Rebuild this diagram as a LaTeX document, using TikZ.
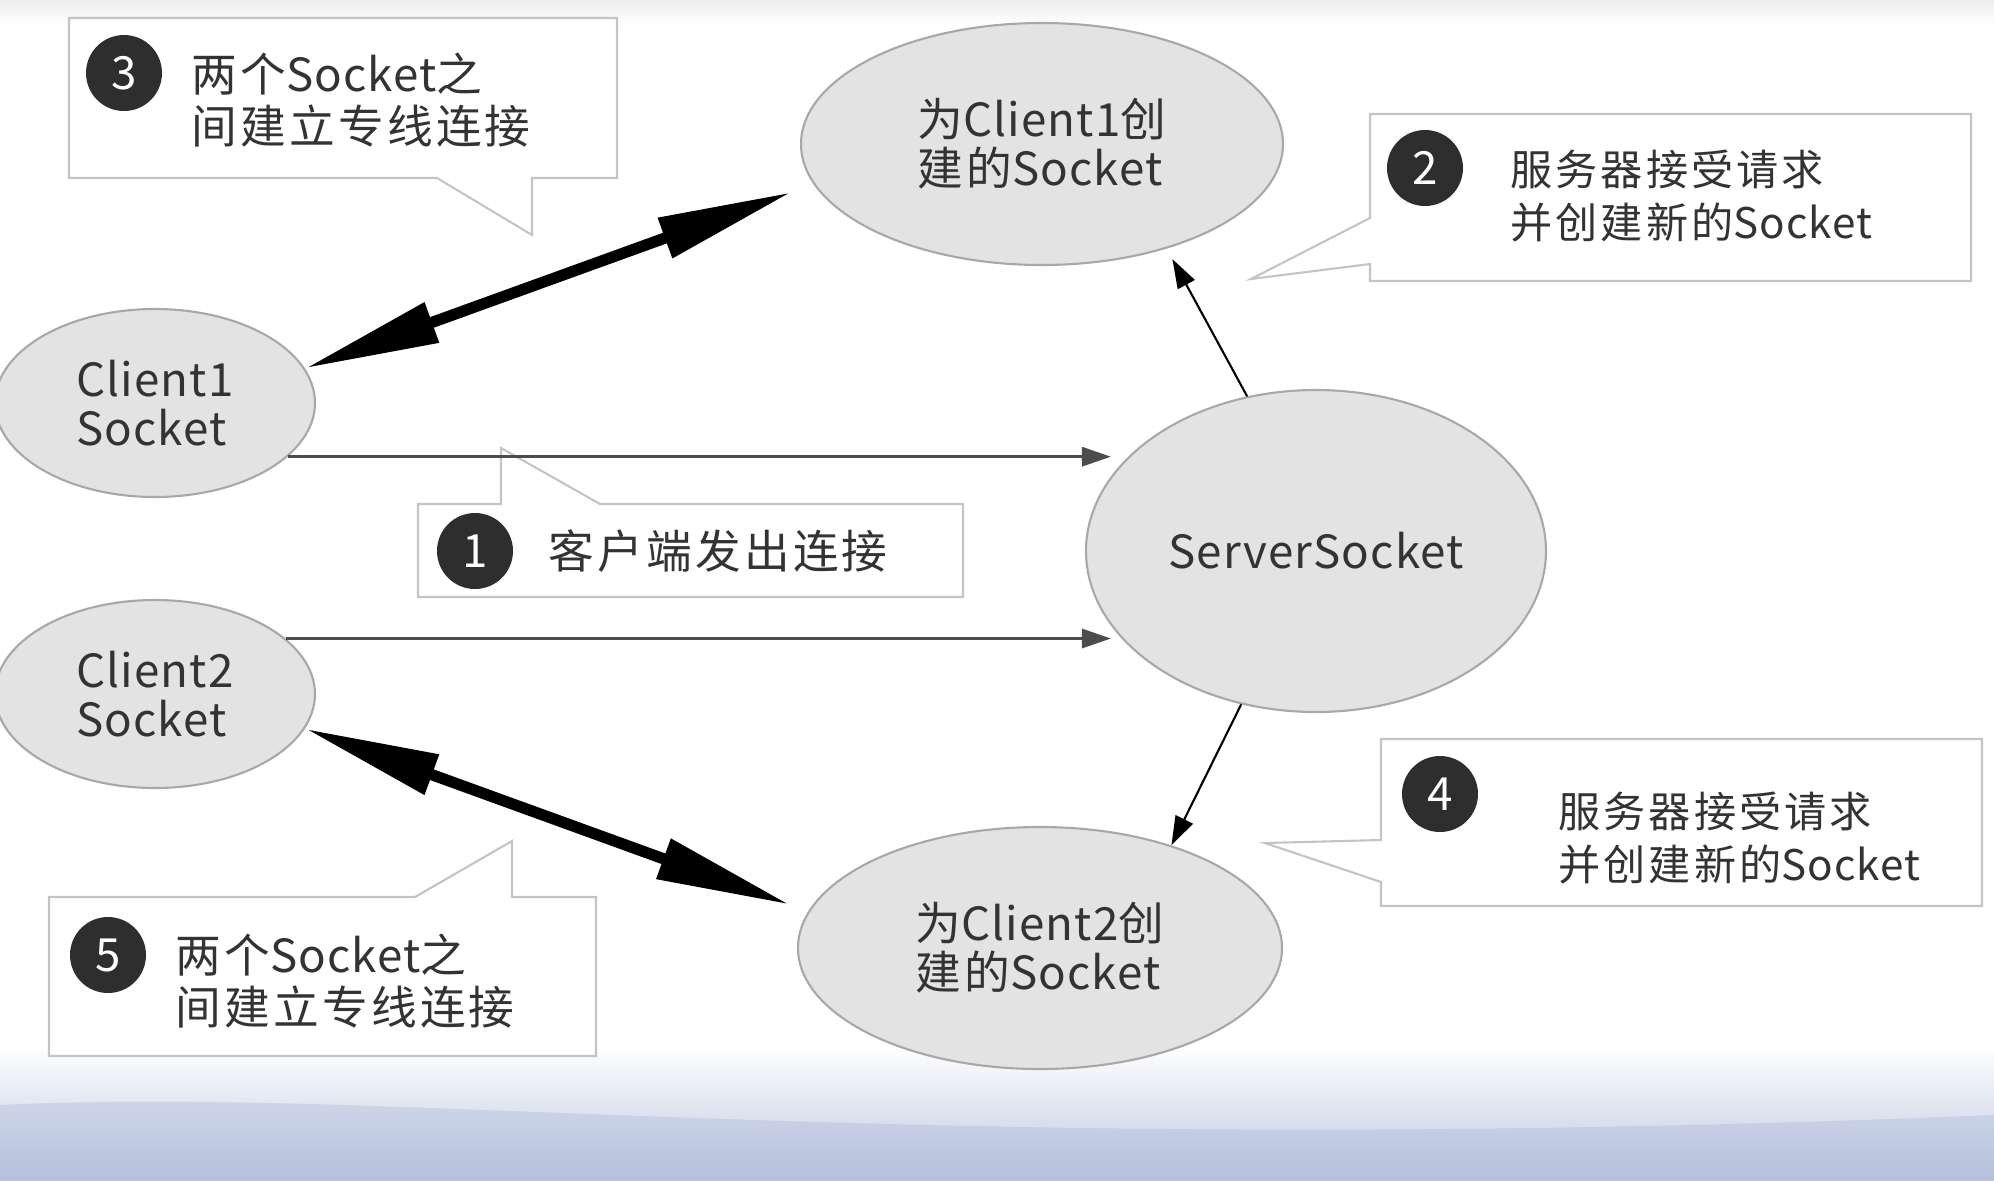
\documentclass[tikz,border=0pt]{standalone}
\usepackage{fontspec}
\setmainfont[LetterSpace=7]{Noto Sans CJK SC}
\newfontfamily\latfont[LetterSpace=2.5]{Noto Sans CJK SC}
\newcommand{\lat}[1]{{\latfont #1}}
\usepackage{tikz}
\usetikzlibrary{
  calc, shapes, arrows.meta, positioning
}

\definecolor{sockfill}{HTML}{E3E3E3}
\definecolor{sockline}{HTML}{A8A8A8}
\definecolor{txt}{HTML}{333333}
\definecolor{boxline}{HTML}{C4C4C4}
\definecolor{wave}{HTML}{A7B4D6}

\begin{document}
\begin{tikzpicture}[font=\fontsize{13}{14}\selectfont, text=txt]
  \tikzstyle{sock}=[ellipse, draw=sockline, line width=0.6pt, fill=sockfill, inner sep=0pt, align=left]
  \tikzstyle{num}=[circle, fill=black!82, text=white, minimum size=0.76cm, inner sep=0pt]
  \tikzstyle{note}=[draw=boxline, line width=0.6pt, fill=white]
  \tikzstyle{notetext}=[anchor=west, inner sep=0pt, align=left]
  \tikzstyle{push}=[draw=black!70, line width=0.9pt, -{Triangle[length=2.9mm,width=1.9mm]}]
  \tikzstyle{spawn}=[draw=black, line width=0.6pt, -{Triangle[length=2.9mm,width=1.9mm]}]
  \tikzstyle{link}=[line width=3.2pt, {Triangle[length=13.5mm,width=4mm]}-{Triangle[length=13.5mm,width=4mm]}]

  \pgfmathsetmacro{\W}{19.94}
  \pgfmathsetmacro{\H}{11.80}

  \useasboundingbox (0,0) rectangle (\W,-\H);
  % background
  \shade[top color=gray!14, bottom color=white] (0,0) rectangle (\W,-0.25);
  \shade[top color=white, bottom color=wave!75] (0,-10.45) rectangle (\W,-\H);
  \fill[wave, opacity=0.35] (0,-11.05) .. controls (4,-10.85) and (9,-11.6) .. (\W,-11.15) -- (\W,-\H) -- (0,-\H) -- cycle;

  % callouts
  \draw[note] (0.69,-0.18) -- (6.17,-0.18) -- (6.17,-1.78) -- (5.32,-1.78) -- (5.32,-2.35) -- (4.37,-1.78) -- (0.69,-1.78) -- cycle;
  \draw[note] (4.18,-5.04) -- (5.01,-5.04) -- (5.01,-4.48) -- (6.00,-5.04) -- (9.63,-5.04) -- (9.63,-5.97) -- (4.18,-5.97) -- cycle;
  \draw[note] (13.70,-1.14) -- (19.71,-1.14) -- (19.71,-2.81) -- (13.70,-2.81) -- (13.70,-2.64) -- (12.51,-2.79) -- (13.70,-2.18) -- cycle;
  \draw[note] (13.81,-7.39) -- (19.82,-7.39) -- (19.82,-9.06) -- (13.81,-9.06) -- (13.81,-8.82) -- (12.65,-8.43) -- (13.81,-8.40) -- cycle;
  \draw[note] (0.49,-8.97) -- (4.15,-8.97) -- (5.12,-8.41) -- (5.12,-8.97) -- (5.96,-8.97) -- (5.96,-10.56) -- (0.49,-10.56) -- cycle;

  \node (n3) [num] at (1.24,-0.73) {3};
  \node (n1) [num] at (4.75,-5.51) {1};
  \node (n2) [num] at (14.25,-1.68) {2};
  \node (n4) [num] at (14.40,-7.94) {4};
  \node (n5) [num] at (1.08,-9.55) {5};

  \node (t3) [notetext] at (1.91,-1.00) {两个\lat{Socket}之\\[1pt]间建立专线连接};
  \node (t1) [notetext] at (5.48,-5.51) {客户端发出连接};
  \node (t2) [notetext, font=\fontsize{12}{14}\selectfont] at (15.10,-1.96) {服务器接受请求\\[1pt]并创建新的\lat{Socket}};
  \node (t4) [notetext, font=\fontsize{12}{14}\selectfont] at (15.58,-8.38) {服务器接受请求\\[1pt]并创建新的\lat{Socket}};
  \node (t5) [notetext] at (1.75,-9.81) {两个\lat{Socket}之\\[1pt]间建立专线连接};

  % sockets
  \node (c1) [sock, minimum width=3.2cm, minimum height=1.88cm] at (1.55,-4.03) {\lat{Client1}\\\lat{Socket}};
  \node (c2) [sock, minimum width=3.2cm, minimum height=1.88cm] at (1.55,-6.94) {\lat{Client2}\\\lat{Socket}};
  \node (srv) [sock, minimum width=4.6cm, minimum height=3.22cm] at (13.16,-5.51) {\lat{ServerSocket}};
  \node (s1) [sock, minimum width=4.82cm, minimum height=2.42cm] at (10.42,-1.44) {为\lat{Client1}创\\建的\lat{Socket}};
  \node (s2) [sock, minimum width=4.84cm, minimum height=2.42cm] at (10.40,-9.48) {为\lat{Client2}创\\建的\lat{Socket}};

  \draw[push, shorten >=-2.6mm] (c1.-22) -- (c1.-22 -| srv.west);
  \draw[push, shorten >=-2.6mm] (c2.23) -- (c2.23 -| srv.west);
  \draw[spawn, shorten >=1.2mm] (srv.114) -- (s1.-40);
  \draw[spawn] (srv.244) -- (s2.38);
  \draw[link, shorten >=2.3mm] (c1.13) -- (s1.190);
  \draw[link, shorten >=1.9mm] (c2.-13) -- (s2.171);

\end{tikzpicture}
\end{document}
